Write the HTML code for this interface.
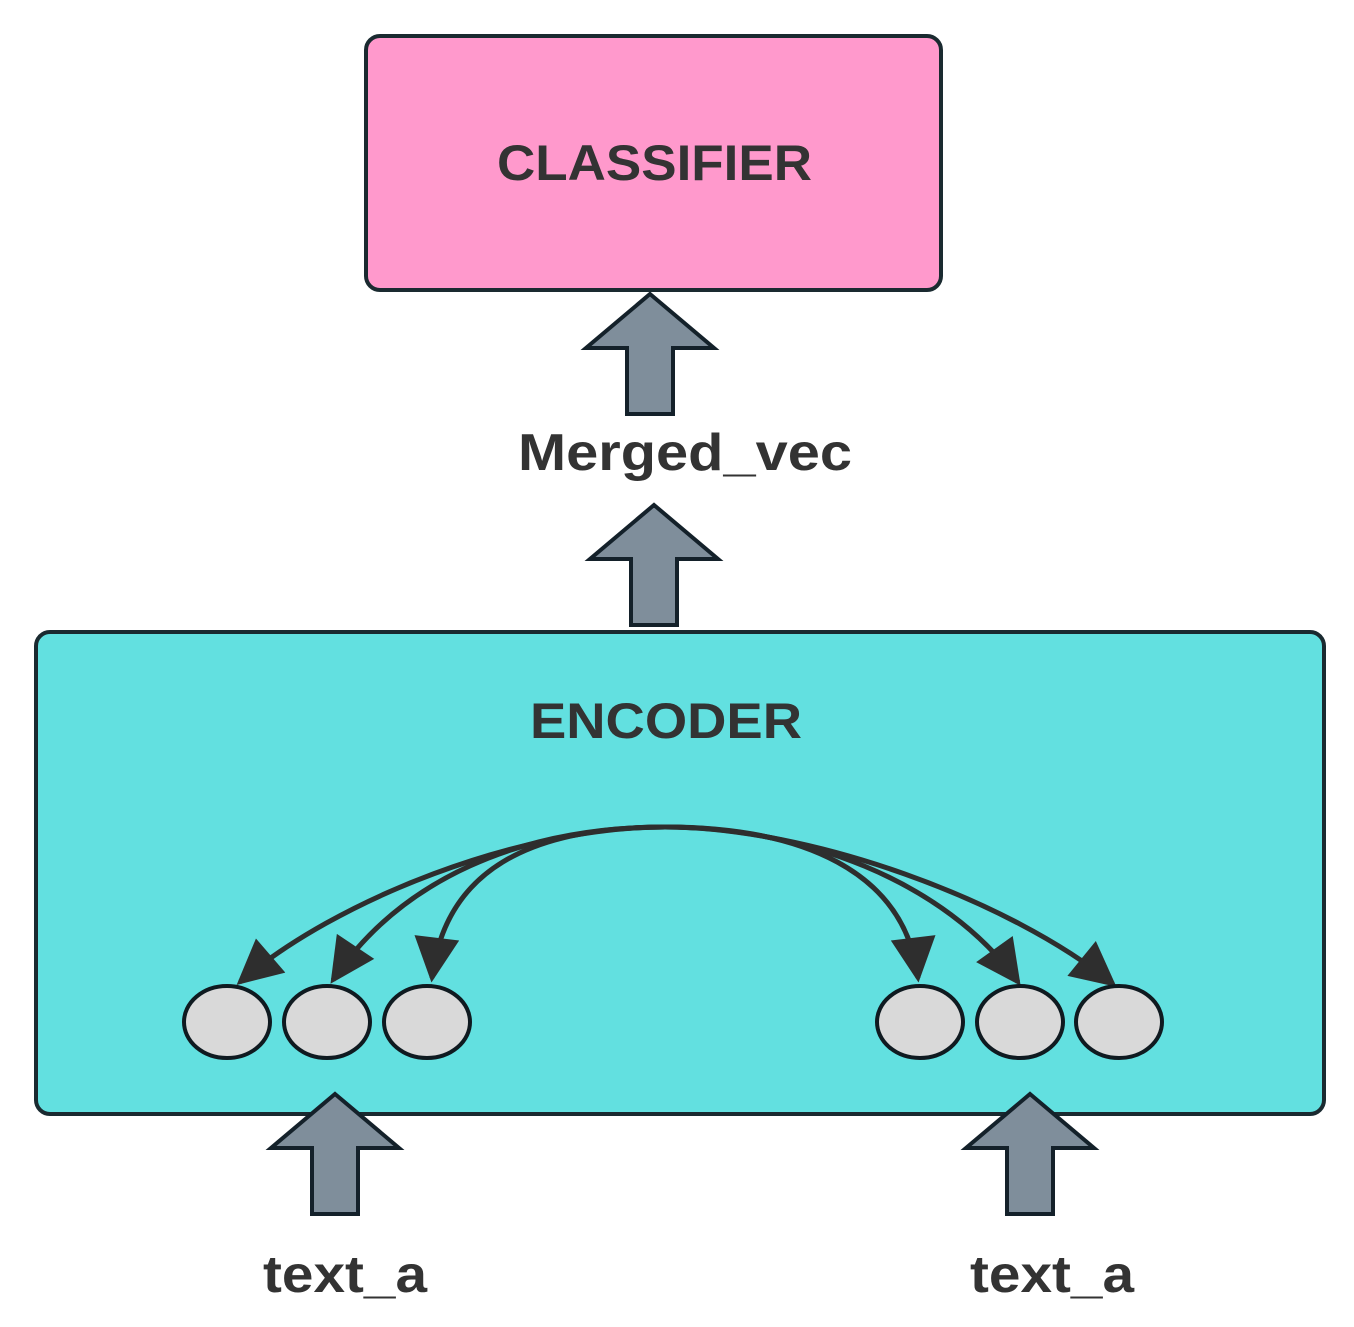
<!DOCTYPE html>
<html><head><style>
body{margin:0;background:#fff;}
svg{display:block}
text{font-family:"Liberation Sans",sans-serif;font-weight:bold;fill:#333;}
</style></head><body>
<svg width="1354" height="1327" viewBox="0 0 1354 1327">
<defs>
<marker id="a" viewBox="0 0 10 10" refX="9" refY="5" markerWidth="10" markerHeight="9" orient="auto"><path d="M0,0 L10,5 L0,10 z" fill="#2e2e2e"/></marker>
</defs>
<rect x="366" y="36" width="575" height="254" rx="14" fill="#ff99cc" stroke="#1a2a30" stroke-width="4"/>
<text x="497" y="180" font-size="50" textLength="315" lengthAdjust="spacingAndGlyphs">CLASSIFIER</text>
<rect x="36" y="632" width="1288" height="482" rx="14" fill="#62e0e0" stroke="#1a2a30" stroke-width="4"/>
<text x="530" y="738" font-size="50" textLength="272" lengthAdjust="spacingAndGlyphs">ENCODER</text>
<g fill="#7f8e9b" stroke="#14212a" stroke-width="4" stroke-linejoin="miter">
<path d="M650,294 L714,348 L673,348 L673,414 L627,414 L627,348 L586,348 Z"/>
<path d="M654,505 L718,559 L677,559 L677,625 L631,625 L631,559 L590,559 Z"/>
<path d="M335,1094 L399,1148 L358,1148 L358,1214 L312,1214 L312,1148 L271,1148 Z"/>
<path d="M1030,1094 L1094,1148 L1053,1148 L1053,1214 L1007,1214 L1007,1148 L966,1148 Z"/>
</g>
<text x="518" y="470" font-size="52" textLength="334" lengthAdjust="spacingAndGlyphs">Merged_vec</text>
<text x="263" y="1292" font-size="52" textLength="164" lengthAdjust="spacingAndGlyphs">text_a</text>
<text x="970" y="1292" font-size="52" textLength="164" lengthAdjust="spacingAndGlyphs">text_a</text>
<g fill="none" stroke="#2e2e2e" stroke-width="5" marker-end="url(#a)">
<path d="M665,827 C520,827 335,900 240,982"/>
<path d="M665,827 C520,827 400,880 333,980"/>
<path d="M665,827 C530,827 445,870 432,978"/>
<path d="M665,827 C800,827 905,870 918,978"/>
<path d="M665,827 C800,827 945,880 1018,982"/>
<path d="M665,827 C810,827 1010,900 1113,984"/>
</g>
<g fill="#d9d9d9" stroke="#0f1a20" stroke-width="4">
<ellipse cx="227" cy="1022" rx="43" ry="36"/>
<ellipse cx="327" cy="1022" rx="43" ry="36"/>
<ellipse cx="427" cy="1022" rx="43" ry="36"/>
<ellipse cx="920" cy="1022" rx="43" ry="36"/>
<ellipse cx="1020" cy="1022" rx="43" ry="36"/>
<ellipse cx="1119" cy="1022" rx="43" ry="36"/>
</g>
</svg>
</body></html>
